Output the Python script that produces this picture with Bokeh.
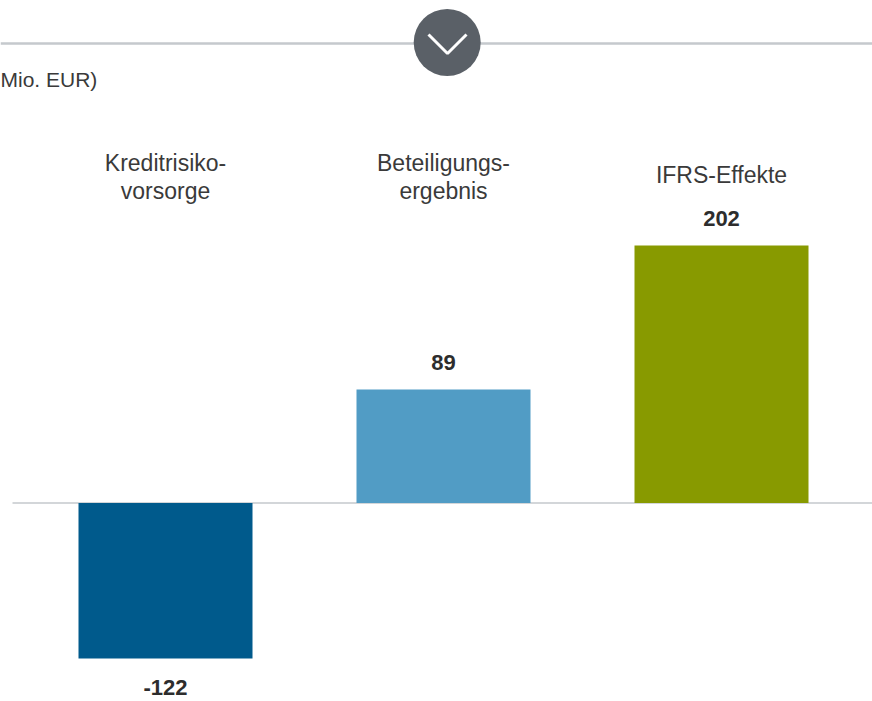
from bokeh.plotting import figure
from bokeh.models import Range1d
from bokeh.core.properties import value
from bokeh.embed import file_html
from bokeh.resources import INLINE

# ---- data ----
categories = ["Kreditrisikovorsorge", "Beteiligungsergebnis", "IFRS-Effekte"]
label_lines = [["Kreditrisiko-", "vorsorge"], ["Beteiligungs-", "ergebnis"], ["IFRS-Effekte"]]
values = [-122, 89, 202]
colors = ["#005a8c", "#519cc5", "#889a00"]
unit_label = "Mio. EUR)"

# ---- layout ----
W, H = 872, 701
K = 1.275          # px per EUR million
X_PX = 278         # px per category slot
zero_py = 502.5    # pixel row of zero line inside the figure
first_px = 165     # pixel column of first bar centre inside the figure

x_start = -first_px / X_PX
x_end = x_start + W / X_PX
y_end = zero_py / K
y_start = y_end - H / K


def dx(px):
    return x_start + px / X_PX


def dy(py):
    return y_end - py / K


FONT = value("Liberation Sans")
TXT = "#3a3a3a"
LINE = "#c5c9cd"

p = figure(width=W, height=H, output_backend="svg", toolbar_location=None,
           x_range=Range1d(x_start, x_end), y_range=Range1d(y_start, y_end),
           min_border=0, min_border_left=0, min_border_right=0,
           min_border_top=0, min_border_bottom=0)
p.axis.visible = False
p.grid.visible = False
p.outline_line_color = None
p.background_fill_color = "white"
p.border_fill_color = "white"

# header line with round button
p.segment(x0=[x_start], y0=[dy(43)], x1=[x_end], y1=[dy(43)], line_color=LINE, line_width=2.5)
p.scatter(x=[dx(446.7)], y=[dy(42)], size=67, marker="circle",
          fill_color="#5a6067", line_color=None)
p.line(x=[dx(428), dx(447), dx(466)], y=[dy(34), dy(53), dy(34)],
       line_color="white", line_width=3)

p.text(x=[dx(0)], y=[dy(79)], text=[unit_label], text_font=FONT,
       text_font_size="21px", text_color=TXT, text_align="left",
       text_baseline="alphabetic")

# zero line
p.segment(x0=[dx(12)], y0=[0], x1=[x_end], y1=[0], line_color=LINE, line_width=1.5)

# bars
idx = list(range(len(categories)))
p.vbar(x=idx, bottom=0, top=values, width=174 / X_PX, fill_color=colors, line_color=None)

# category labels
lx, ly, lt = [], [], []
for i, lines in enumerate(label_lines):
    if len(lines) == 1:
        rows = [174]
    else:
        rows = [162, 190]
    for r, t in zip(rows, lines):
        lx.append(i)
        ly.append(dy(r))
        lt.append(t)
p.text(x=lx, y=ly, text=lt, text_font=FONT, text_font_size="23px",
       text_color=TXT, text_align="center", text_baseline="alphabetic")

# value labels
pos = [i for i, v in enumerate(values) if v >= 0]
neg = [i for i, v in enumerate(values) if v < 0]
p.text(x=pos, y=[values[i] for i in pos], text=[str(values[i]) for i in pos],
       text_font=FONT, text_font_size="22px", text_font_style="bold",
       text_color="#2d2d2d", text_align="center", text_baseline="alphabetic",
       y_offset=-27)
p.text(x=neg, y=[values[i] for i in neg], text=[str(values[i]) for i in neg],
       text_font=FONT, text_font_size="22px", text_font_style="bold",
       text_color="#2d2d2d", text_align="center", text_baseline="alphabetic",
       y_offset=29)

open("out.html", "w").write(file_html(p, INLINE))
